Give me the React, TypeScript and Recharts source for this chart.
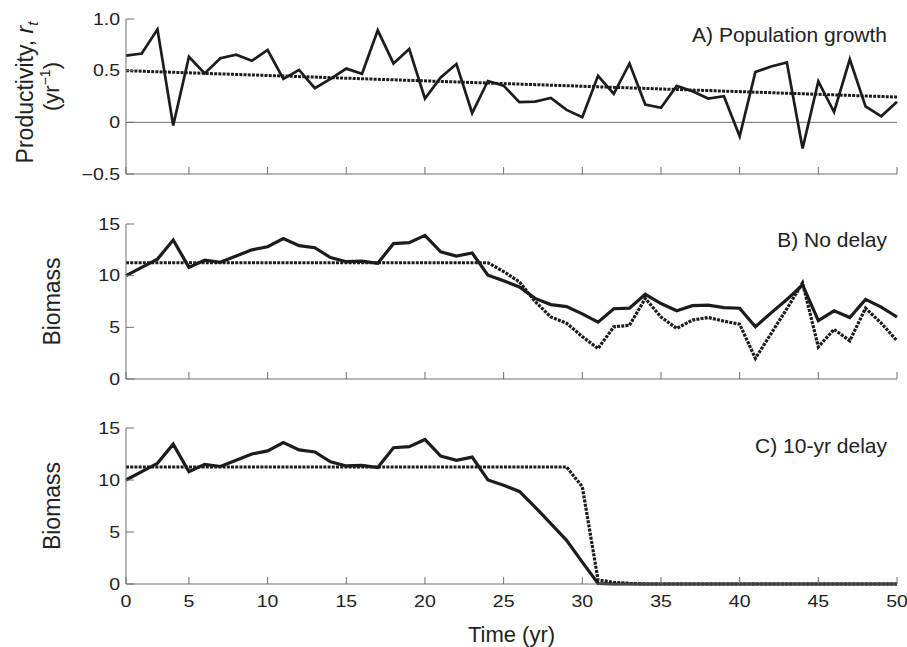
import React from 'react';
import { LineChart, Line, XAxis, YAxis, ReferenceLine, Label } from 'recharts';

const YEARS = Array.from({ length: 50 }, (_, i) => i + 1);
const X_TICKS = [1, 5, 10, 15, 20, 25, 30, 35, 40, 45, 50];
const X_TICK_LABELS = ['0', '5', '10', '15', '20', '25', '30', '35', '40', '45', '50'];

const R_TICKS = [-0.5, 0, 0.5, 1];
const R_TICK_LABELS = ['\u22120.5', '0', '0.5', '1.0'];
const B_TICKS = [0, 5, 10, 15];
const B_TICK_LABELS = ['0', '5', '10', '15'];

// A) productivity r_t per year
const PRODUCTIVITY = [
  0.645, 0.666, 0.9, -0.03, 0.635, 0.474, 0.62, 0.654, 0.596, 0.7,
  0.42, 0.507, 0.33, 0.42, 0.52, 0.47, 0.89, 0.57, 0.71, 0.23,
  0.435, 0.564, 0.09, 0.4, 0.355, 0.195, 0.2, 0.237, 0.12, 0.05,
  0.45, 0.276, 0.57, 0.173, 0.141, 0.353, 0.3, 0.23, 0.253, -0.135,
  0.487, 0.54, 0.58, -0.253, 0.397, 0.1, 0.61, 0.154, 0.058, 0.2,
];
// dotted trend in A (end points)
const TREND_A = [
  { t: 1, v: 0.5 },
  { t: 50, v: 0.245 },
];

// B) no delay
const BIOMASS_B = [
  10.0, 10.8, 11.6, 13.45, 10.8, 11.5, 11.3, 11.9, 12.5, 12.8,
  13.6, 12.9, 12.7, 11.75, 11.35, 11.4, 11.2, 13.1, 13.2, 13.9,
  12.3, 11.9, 12.2, 10.05, 9.5, 8.9, 7.8, 7.2, 7.0, 6.3,
  5.5, 6.8, 6.85, 8.2, 7.3, 6.6, 7.1, 7.15, 6.9, 6.85,
  5.05, 6.4, 7.7, 9.1, 5.65, 6.6, 5.95, 7.7, 6.95, 6.0,
];
const TARGET_B = [
  11.25, 11.25, 11.25, 11.25, 11.25, 11.25, 11.25, 11.25, 11.25, 11.25,
  11.25, 11.25, 11.25, 11.25, 11.25, 11.25, 11.25, 11.25, 11.25, 11.25,
  11.25, 11.25, 11.25, 11.25, 10.4, 9.4, 7.5, 6.0, 5.4, 4.1,
  2.95, 5.05, 5.2, 7.8, 6.0, 4.9, 5.7, 5.95, 5.6, 5.3,
  2.0, 4.4, 6.8, 9.3, 3.1, 4.8, 3.7, 6.85, 5.4, 3.7,
];

// C) 10-yr delay
const BIOMASS_C = [
  10.0, 10.8, 11.6, 13.45, 10.8, 11.5, 11.3, 11.9, 12.5, 12.8,
  13.6, 12.9, 12.7, 11.75, 11.35, 11.4, 11.2, 13.1, 13.2, 13.9,
  12.3, 11.9, 12.2, 10.0, 9.5, 8.9, 7.4, 5.8, 4.2, 2.1,
  0.05, 0, 0, 0, 0, 0, 0, 0, 0, 0,
  0, 0, 0, 0, 0, 0, 0, 0, 0, 0,
];
const TARGET_C = [
  11.25, 11.25, 11.25, 11.25, 11.25, 11.25, 11.25, 11.25, 11.25, 11.25,
  11.25, 11.25, 11.25, 11.25, 11.25, 11.25, 11.25, 11.25, 11.25, 11.25,
  11.25, 11.25, 11.25, 11.25, 11.25, 11.25, 11.25, 11.25, 11.25, 9.35,
  0.4, 0.15, 0.05, 0, 0, 0, 0, 0, 0, 0,
  0, 0, 0, 0, 0, 0, 0, 0, 0, 0,
];

const FONT = '"Liberation Sans", Arial, Helvetica, sans-serif';
const INK = '#1c1c1c';
const AXIS = '#6e6e6e';
const DOTS = '3 1.2';

const rowsA = YEARS.map((t, i) => ({ t, r: PRODUCTIVITY[i] }));
const rowsB = YEARS.map((t, i) => ({ t, b: BIOMASS_B[i], target: TARGET_B[i] }));
const rowsC = YEARS.map((t, i) => ({ t, b: BIOMASS_C[i], target: TARGET_C[i] }));

function XTick(props: any) {
  const { x, y, payload, show } = props;
  if (!show) return <g />;
  const label = X_TICK_LABELS[X_TICKS.indexOf(payload.value)];
  return (
    <text
      transform={`translate(${x},${y}) scale(1.22,1)`}
      textAnchor="middle"
      dy="0.71em"
      fontSize={16}
      fontFamily={FONT}
      fill="#222"
    >
      {label}
    </text>
  );
}

function YTick(props: any) {
  const { x, y, payload, ticks, labels } = props;
  const label = labels[ticks.indexOf(payload.value)];
  return (
    <text
      transform={`translate(${x},${y}) scale(1.22,1)`}
      textAnchor="end"
      dy="0.36em"
      fontSize={16}
      fontFamily={FONT}
      fill="#222"
    >
      {label}
    </text>
  );
}

function BiomassLabel(props: any) {
  const vb = props.viewBox || { y: 0, height: 0 };
  const cy = vb.y + vb.height / 2;
  return (
    <text
      transform={`translate(60,${cy}) rotate(-90)`}
      textAnchor="middle"
      fontSize={23}
      fontFamily={FONT}
      fill="#222"
    >
      Biomass
    </text>
  );
}

function ProductivityLabel(props: any) {
  const vb = props.viewBox || { y: 0, height: 0 };
  const mid = vb.y + vb.height / 2;
  return (
    <g fontFamily={FONT} fill="#222">
      <text transform={`translate(33,${mid - 4}) rotate(-90)`} textAnchor="middle" fontSize={23}>
        <tspan>Productivity, </tspan>
        <tspan fontStyle="italic">r</tspan>
        <tspan fontStyle="italic" fontSize={15} dy={5}>
          t
        </tspan>
      </text>
      <text transform={`translate(59,${mid - 10}) rotate(-90)`} textAnchor="middle" fontSize={22}>
        <tspan>(yr</tspan>
        <tspan fontSize={14} dy={-9}>
          {'\u22121'}
        </tspan>
        <tspan dy={9}>)</tspan>
      </text>
    </g>
  );
}

function TimeLabel(props: any) {
  const vb = props.viewBox || { x: 0, y: 0, width: 0 };
  return (
    <text
      x={vb.x + vb.width / 2}
      y={vb.y + 58}
      textAnchor="middle"
      fontSize={22}
      fontFamily={FONT}
      fill="#222"
    >
      Time (yr)
    </text>
  );
}

function Title({ text, top }: { text: string; top: number }) {
  return (
    <div
      style={{
        position: 'absolute',
        right: 20,
        top,
        fontSize: 21,
        lineHeight: 1,
        fontFamily: FONT,
        color: '#222',
        whiteSpace: 'nowrap',
      }}
    >
      {text}
    </div>
  );
}

function xAxis(show: boolean, height: number, children?: React.ReactNode) {
  return (
    <XAxis
      dataKey="t"
      type="number"
      domain={[1, 50]}
      ticks={X_TICKS}
      interval={0}
      tick={<XTick show={show} />}
      tickSize={-7}
      tickMargin={19}
      height={height}
      stroke={AXIS}
    >
      {children}
    </XAxis>
  );
}

export default function App(): React.ReactElement {
  return (
    <div style={{ position: 'absolute', left: 0, top: 0, width: 907, height: 647, background: '#fff' }}>
      <div style={{ position: 'absolute', left: 0, top: 0 }}>
        <LineChart width={907} height={190} data={rowsA} margin={{ top: 19, right: 10, bottom: 0, left: 0 }}>
          {xAxis(false, 16)}
          <YAxis
            type="number"
            domain={[-0.5, 1]}
            ticks={R_TICKS}
            interval={0}
            tick={<YTick ticks={R_TICKS} labels={R_TICK_LABELS} />}
            tickSize={-8}
            tickMargin={14}
            width={126}
            stroke={AXIS}
          >
            <Label content={ProductivityLabel} />
          </YAxis>
          <ReferenceLine y={0} stroke={AXIS} strokeWidth={1} />
          <Line
            dataKey="r"
            type="linear"
            stroke={INK}
            strokeWidth={2.7}
            dot={false}
            isAnimationActive={false}
          />
          <Line
            data={TREND_A}
            dataKey="v"
            type="linear"
            stroke={INK}
            strokeWidth={3}
            strokeDasharray={DOTS}
            dot={false}
            isAnimationActive={false}
          />
        </LineChart>
      </div>

      <div style={{ position: 'absolute', left: 0, top: 190 }}>
        <LineChart width={907} height={205} data={rowsB} margin={{ top: 34, right: 10, bottom: 0, left: 0 }}>
          {xAxis(false, 16)}
          <YAxis
            type="number"
            domain={[0, 15]}
            ticks={B_TICKS}
            interval={0}
            tick={<YTick ticks={B_TICKS} labels={B_TICK_LABELS} />}
            tickSize={-8}
            tickMargin={14}
            width={126}
            stroke={AXIS}
          >
            <Label content={BiomassLabel} />
          </YAxis>
          <Line
            dataKey="target"
            type="linear"
            stroke={INK}
            strokeWidth={3.2}
            strokeDasharray={DOTS}
            dot={false}
            isAnimationActive={false}
          />
          <Line dataKey="b" type="linear" stroke={INK} strokeWidth={3.2} dot={false} isAnimationActive={false} />
        </LineChart>
      </div>

      <div style={{ position: 'absolute', left: 0, top: 395 }}>
        <LineChart width={907} height={252} data={rowsC} margin={{ top: 33, right: 10, bottom: 0, left: 0 }}>
          {xAxis(true, 63, <Label content={TimeLabel} />)}
          <YAxis
            type="number"
            domain={[0, 15]}
            ticks={B_TICKS}
            interval={0}
            tick={<YTick ticks={B_TICKS} labels={B_TICK_LABELS} />}
            tickSize={-8}
            tickMargin={14}
            width={126}
            stroke={AXIS}
          >
            <Label content={BiomassLabel} />
          </YAxis>
          <Line
            dataKey="target"
            type="linear"
            stroke={INK}
            strokeWidth={3.2}
            strokeDasharray={DOTS}
            dot={false}
            isAnimationActive={false}
          />
          <Line dataKey="b" type="linear" stroke={INK} strokeWidth={3.2} dot={false} isAnimationActive={false} />
        </LineChart>
      </div>

      <Title text="A) Population growth" top={24} />
      <Title text="B) No delay" top={229} />
      <Title text="C) 10-yr delay" top={435} />
    </div>
  );
}
